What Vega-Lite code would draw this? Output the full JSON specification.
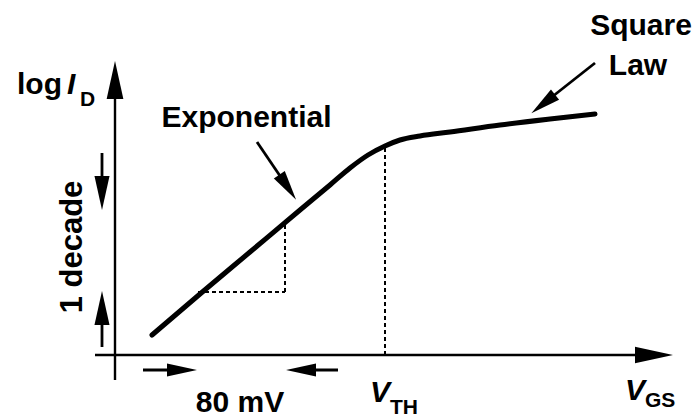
{
  "$schema": "https://vega.github.io/schema/vega-lite/v6.json",
  "width": 697,
  "height": 418,
  "autosize": {"type": "fit", "contains": "padding"},
  "padding": 0,
  "background": "white",
  "config": {"view": {"stroke": null}},
  "datasets": {
    "curve": [
      {"x": 3.7, "y": 2.0},
      {"x": 8.5, "y": 6.1},
      {"x": 13.5, "y": 10.3},
      {"x": 18.5, "y": 14.5},
      {"x": 21.5, "y": 17.0},
      {"x": 23.5, "y": 18.7},
      {"x": 25.3, "y": 20.0},
      {"x": 27.0, "y": 20.9},
      {"x": 28.5, "y": 21.5},
      {"x": 30.5, "y": 21.9},
      {"x": 33.5, "y": 22.3},
      {"x": 38.5, "y": 23.0},
      {"x": 43.5, "y": 23.6},
      {"x": 48.0, "y": 24.1}
    ],
    "dashed": [
      {"x": 27.0, "y": 0, "x2": 27.0, "y2": 20.8},
      {"x": 17.0, "y": 6.3, "x2": 17.0, "y2": 13.3},
      {"x": 8.3, "y": 6.3, "x2": 17.0, "y2": 6.3}
    ],
    "axes": [
      {"x": -2.0, "y": 0, "x2": 53.5, "y2": 0},
      {"x": 0, "y": -2.5, "x2": 0, "y2": 28.0}
    ],
    "shafts": [
      {"x": -1.3, "y": 20.2, "x2": -1.3, "y2": 17.0},
      {"x": -1.3, "y": 0.8, "x2": -1.3, "y2": 4.0},
      {"x": 2.8, "y": -1.5, "x2": 7.0, "y2": -1.5},
      {"x": 22.3, "y": -1.5, "x2": 18.3, "y2": -1.5},
      {"x": 14.2, "y": 21.3, "x2": 17.27, "y2": 16.78},
      {"x": 48.0, "y": 29.2, "x2": 42.8, "y2": 25.1}
    ],
    "heads": [
      {"x": 0, "y": 27.5, "angle": 0, "kind": "axis"},
      {"x": 53.9, "y": 0, "angle": 90, "kind": "axis"},
      {"x": -1.3, "y": 16.2, "angle": 180, "kind": "mid"},
      {"x": -1.3, "y": 4.7, "angle": 0, "kind": "mid"},
      {"x": 6.7, "y": -1.5, "angle": 90, "kind": "small"},
      {"x": 18.6, "y": -1.5, "angle": 270, "kind": "small"},
      {"x": 17.27, "y": 16.78, "angle": 146, "kind": "small"},
      {"x": 42.82, "y": 25.11, "angle": 232, "kind": "small"}
    ],
    "labels": [
      {"x": 52.6, "y": 32.0, "text": "Square"},
      {"x": 52.3, "y": 28.0, "text": "Law"},
      {"x": 13.15, "y": 22.8, "text": "Exponential"},
      {"x": 12.5, "y": -5.7, "text": "80 mV"}
    ],
    "leftlabels": [
      {"x": -9.8, "y": 26.1, "text": "log"}
    ],
    "italics": [
      {"x": -4.8, "y": 26.1, "text": "I"},
      {"x": 25.5, "y": -4.7, "text": "V"},
      {"x": 51.0, "y": -4.5, "text": "V"}
    ],
    "subs": [
      {"x": -3.5, "y": 24.9, "text": "D"},
      {"x": 27.5, "y": -5.9, "text": "TH"},
      {"x": 53.0, "y": -5.2, "text": "GS"}
    ],
    "vertical": [
      {"x": -4.2, "y": 10.8, "text": "1 decade"}
    ]
  },
  "encoding": {
    "x": {"field": "x", "type": "quantitative", "scale": {"domain": [-11.5, 58.2], "nice": false, "zero": false}, "axis": null},
    "y": {"field": "y", "type": "quantitative", "scale": {"domain": [-6.3, 35.5], "nice": false, "zero": false}, "axis": null}
  },
  "layer": [
    {
      "data": {"name": "axes"},
      "mark": {"type": "rule", "color": "black", "strokeWidth": 2.4},
      "encoding": {"x2": {"field": "x2"}, "y2": {"field": "y2"}}
    },
    {
      "data": {"name": "dashed"},
      "mark": {"type": "rule", "color": "black", "strokeWidth": 2, "strokeDash": [4, 3]},
      "encoding": {"x2": {"field": "x2"}, "y2": {"field": "y2"}}
    },
    {
      "data": {"name": "shafts"},
      "mark": {"type": "rule", "color": "black", "strokeWidth": 2.8},
      "encoding": {"x2": {"field": "x2"}, "y2": {"field": "y2"}}
    },
    {
      "data": {"name": "heads"},
      "mark": {"type": "point", "filled": true, "color": "black", "opacity": 1, "strokeWidth": 0, "shape": "M0,-1L0.44,1L-0.44,1Z"},
      "encoding": {
        "angle": {"field": "angle", "type": "quantitative", "scale": {"domain": [0, 360], "range": [0, 360]}},
        "size": {"field": "kind", "type": "nominal", "scale": {"domain": ["axis", "mid", "small"], "range": [1444, 900, 676]}, "legend": null}
      }
    },
    {
      "data": {"name": "curve"},
      "mark": {"type": "line", "color": "black", "strokeWidth": 5, "interpolate": "monotone", "strokeCap": "round"},
      "encoding": {}
    },
    {
      "data": {"name": "labels"},
      "mark": {"type": "text", "font": "Liberation Sans", "fontWeight": "bold", "fontSize": 30, "align": "center", "baseline": "alphabetic", "color": "black"},
      "encoding": {"text": {"field": "text"}}
    },
    {
      "data": {"name": "leftlabels"},
      "mark": {"type": "text", "font": "Liberation Sans", "fontWeight": "bold", "fontSize": 30, "align": "left", "baseline": "alphabetic", "color": "black"},
      "encoding": {"text": {"field": "text"}}
    },
    {
      "data": {"name": "italics"},
      "mark": {"type": "text", "font": "Liberation Sans", "fontWeight": "bold", "fontStyle": "italic", "fontSize": 30, "align": "left", "baseline": "alphabetic", "color": "black"},
      "encoding": {"text": {"field": "text"}}
    },
    {
      "data": {"name": "subs"},
      "mark": {"type": "text", "font": "Liberation Sans", "fontWeight": "bold", "fontSize": 21, "align": "left", "baseline": "alphabetic", "color": "black"},
      "encoding": {"text": {"field": "text"}}
    },
    {
      "data": {"name": "vertical"},
      "mark": {"type": "text", "font": "Liberation Sans", "fontWeight": "bold", "fontSize": 31, "align": "center", "baseline": "middle", "angle": 270, "color": "black"},
      "encoding": {"text": {"field": "text"}}
    }
  ]
}
